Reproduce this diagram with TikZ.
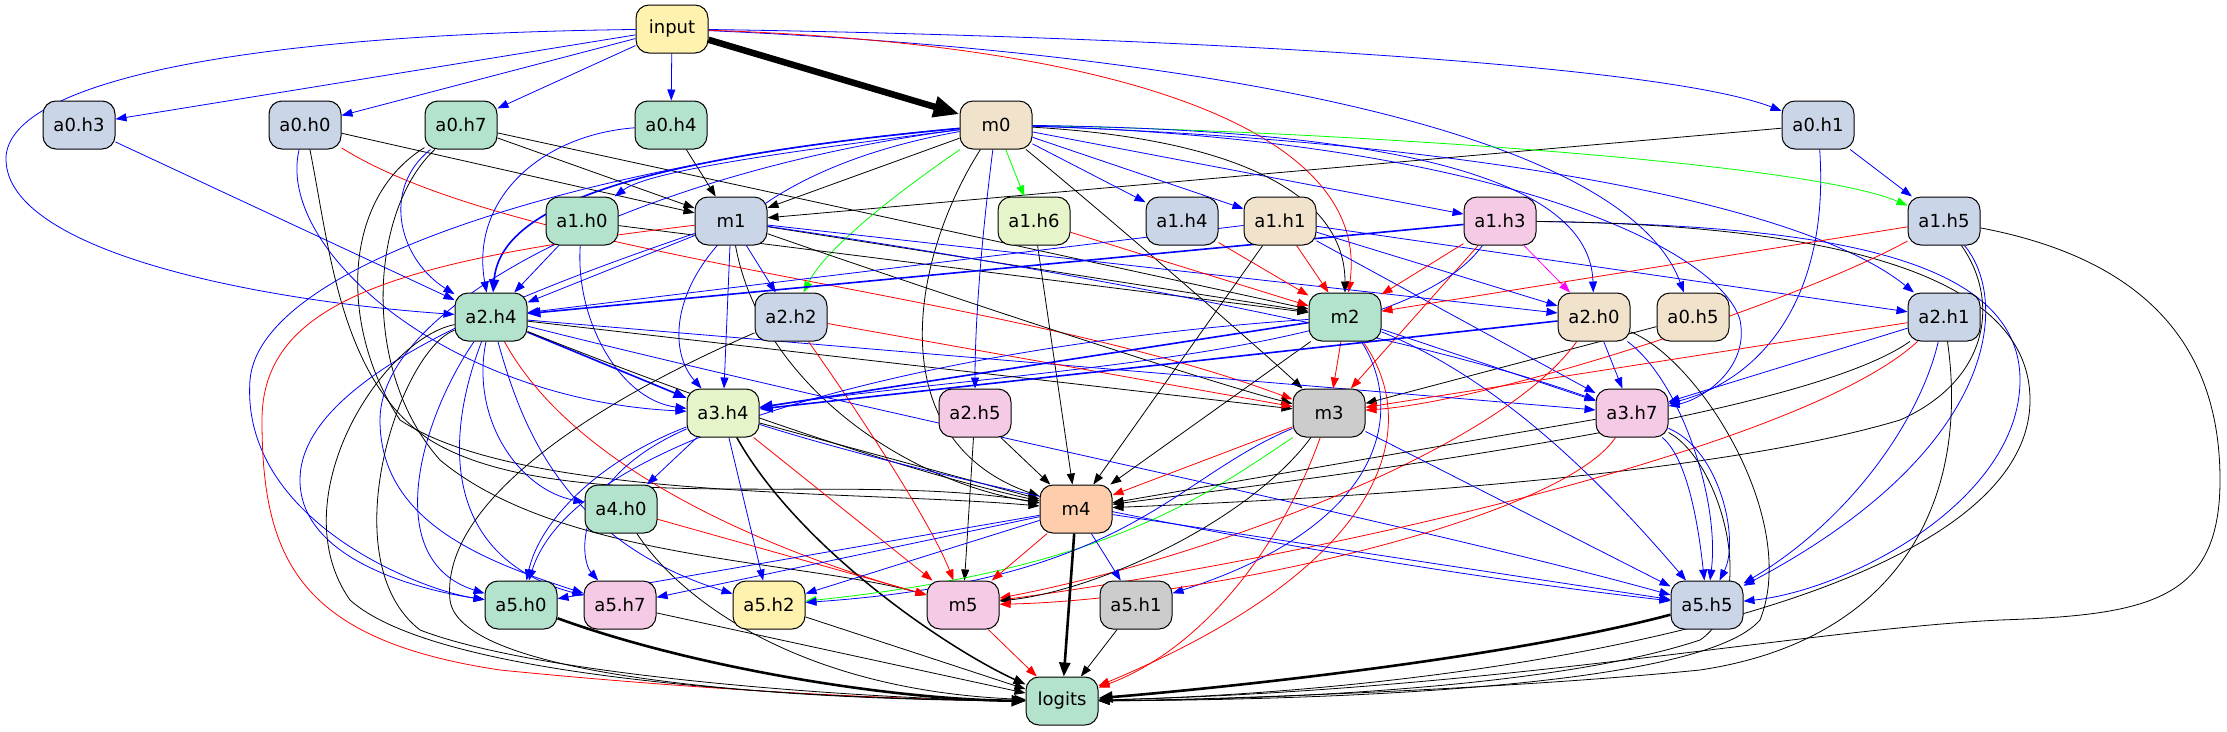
\documentclass[tikz,border=0pt]{standalone}
\usepackage{fontspec}
\setmainfont{DejaVu Sans}
\usetikzlibrary{arrows.meta}
\definecolor{pMint}{HTML}{B3E2CD}
\definecolor{pPeach}{HTML}{FDCDAC}
\definecolor{pBlue}{HTML}{CBD5E8}
\definecolor{pPink}{HTML}{F4CAE4}
\definecolor{pLime}{HTML}{E6F5C9}
\definecolor{pYel}{HTML}{FFF2AE}
\definecolor{pBeige}{HTML}{F1E2CC}
\definecolor{pGray}{HTML}{CCCCCC}
\definecolor{eBlue}{HTML}{0000FF}
\definecolor{eRed}{HTML}{FF0000}
\definecolor{eGreen}{HTML}{00FF00}
\definecolor{eMag}{HTML}{FF00FF}
\pgfdeclarelayer{bg}
\pgfsetlayers{bg,main}
\tikzset{
  hbox/.style={draw, line width=1pt, rounded corners=13pt, minimum width=72pt, minimum height=48pt, inner sep=0pt, font=\fontsize{18}{20}\selectfont},
  eany/.style={-{Triangle[length=11pt,width=8pt]}, line width=0.8pt},
  eblu/.style={eany, eBlue},
  ebluB/.style={-{Triangle[length=13pt,width=10pt]}, eBlue, line width=1.6pt},
  eblk/.style={eany, black},
  ered/.style={eany, eRed},
  egrn/.style={eany, eGreen},
  emag/.style={eany, eMag},
  eblkB/.style={-{Triangle[length=14pt,width=11pt]}, black, line width=2.6pt},
  eblkM/.style={-{Triangle[length=12pt,width=9pt]}, black, line width=1.5pt},
  einp/.style={-{Triangle[length=26pt,width=20pt]}, black, line width=6.5pt}
}
\begin{document}
\begin{tikzpicture}[x=1pt,y=1pt,yscale=-1]
\useasboundingbox (0,0) rectangle (2227,731);
% rank 0
\node[hbox, fill=pYel] (input) at (672,29) {input};
% rank 1
\node[hbox, fill=pBlue] (a0h3) at (79,125) {a0.h3};
\node[hbox, fill=pBlue] (a0h0) at (305,125) {a0.h0};
\node[hbox, fill=pMint] (a0h7) at (461,125) {a0.h7};
\node[hbox, fill=pMint] (a0h4) at (671,125) {a0.h4};
\node[hbox, fill=pBeige] (m0) at (996,125) {m0};
\node[hbox, fill=pBlue] (a0h1) at (1818,125) {a0.h1};
% rank 2
\node[hbox, fill=pMint] (a1h0) at (582,221) {a1.h0};
\node[hbox, fill=pBlue] (m1) at (731,221) {m1};
\node[hbox, fill=pLime] (a1h6) at (1034,221) {a1.h6};
\node[hbox, fill=pBlue] (a1h4) at (1182,221) {a1.h4};
\node[hbox, fill=pBeige] (a1h1) at (1280,221) {a1.h1};
\node[hbox, fill=pPink] (a1h3) at (1500,221) {a1.h3};
\node[hbox, fill=pBlue] (a1h5) at (1944,221) {a1.h5};
% rank 3
\node[hbox, fill=pMint] (a2h4) at (491,317) {a2.h4};
\node[hbox, fill=pBlue] (a2h2) at (791,317) {a2.h2};
\node[hbox, fill=pMint] (m2) at (1345,317) {m2};
\node[hbox, fill=pBeige] (a2h0) at (1594,317) {a2.h0};
\node[hbox, fill=pBeige] (a0h5) at (1693,317) {a0.h5};
\node[hbox, fill=pBlue] (a2h1) at (1944,317) {a2.h1};
% rank 4
\node[hbox, fill=pLime] (a3h4) at (723,413) {a3.h4};
\node[hbox, fill=pPink] (a2h5) at (975,413) {a2.h5};
\node[hbox, fill=pGray] (m3) at (1329,413) {m3};
\node[hbox, fill=pPink] (a3h7) at (1632,413) {a3.h7};
% rank 5
\node[hbox, fill=pMint] (a4h0) at (621,509) {a4.h0};
\node[hbox, fill=pPeach] (m4) at (1076,509) {m4};
% rank 6
\node[hbox, fill=pMint] (a5h0) at (521,605) {a5.h0};
\node[hbox, fill=pPink] (a5h7) at (620,605) {a5.h7};
\node[hbox, fill=pYel] (a5h2) at (769,605) {a5.h2};
\node[hbox, fill=pPink] (m5) at (963,605) {m5};
\node[hbox, fill=pGray] (a5h1) at (1136,605) {a5.h1};
\node[hbox, fill=pBlue] (a5h5) at (1707,605) {a5.h5};
% rank 7
\node[hbox, fill=pMint] (logits) at (1062,701) {logits};

\begin{pgfonlayer}{bg}
% from input
\draw[einp] (input) -- (m0);
\draw[eblu] (input) -- (a0h3);
\draw[eblu] (input) -- (a0h0);
\draw[eblu] (input) -- (a0h7);
\draw[eblu] (input) -- (a0h4);
\draw[eblu] (input) .. controls (1100,35) and (1650,60) .. (a0h1);
\draw[eblu] (input) .. controls (1150,50) and (1620,120) .. (a0h5);
\draw[ered] (input) .. controls (1150,45) and (1370,140) .. (m2);
\draw[eblu] (input) .. controls (200,35) and (4,90) .. (6,160) .. controls (8,250) and (250,300) .. (a2h4);
% from the a0 heads
\draw[eblu] (a0h3) -- (a2h4);
\draw[eblk] (a0h0) -- (m1);
\draw[ered] (a0h0) .. controls (520,260) and (1000,290) .. (m3);
\draw[eblu] (a0h0) .. controls (275,250) and (450,400) .. (a3h4);
\draw[eblk] (a0h0) .. controls (330,250) and (340,380) .. (430,440) .. controls (560,520) and (850,470) .. (m4);
\draw[eblk] (a0h7) -- (m1);
\draw[eblk] (a0h7) -- (m2);
\draw[eblu] (a0h7) .. controls (380,190) and (400,260) .. (a2h4);
\draw[eblk] (a0h7) .. controls (340,200) and (340,330) .. (400,420) .. controls (520,500) and (850,490) .. (m4);
\draw[eblk] (a0h7) .. controls (370,210) and (360,370) .. (440,460) .. controls (560,560) and (800,560) .. (m5);
\draw[eblk] (a0h4) -- (m1);
\draw[eblu] (a0h4) .. controls (540,135) and (470,200) .. (a2h4);
\draw[eblk] (a0h1) -- (m1);
\draw[eblu] (a0h1) -- (a1h5);
\draw[eblu] (a0h1) .. controls (1830,300) and (1760,380) .. (a3h7);
\draw[eblk] (a0h5) -- (m3);
% from m0
\draw[eblk] (m0) -- (m1);
\draw[egrn] (m0) -- (a1h6);
\draw[eblu] (m0) -- (a1h4);
\draw[eblu] (m0) -- (a1h1);
\draw[eblu] (m0) -- (a1h3);
\draw[egrn] (m0) .. controls (1300,130) and (1800,160) .. (a1h5);
\draw[egrn] (m0) .. controls (930,170) and (830,240) .. (a2h2);
\draw[eblk] (m0) .. controls (1250,140) and (1345,200) .. (m2);
\draw[eblk] (m0) .. controls (1100,210) and (1250,340) .. (m3);
\draw[eblk] (m0) .. controls (910,260) and (880,440) .. (m4);
\draw[eblu] (m0) .. controls (980,250) and (975,330) .. (a2h5);
\draw[eblu] (m0) .. controls (800,150) and (650,170) .. (a1h0);
\draw[ebluB] (m0) .. controls (620,160) and (500,210) .. (a2h4);
\draw[eblu] (m0) .. controls (690,180) and (650,330) .. (a3h4);
\draw[eblu] (m0) .. controls (600,160) and (260,260) .. (250,380) .. controls (240,520) and (420,590) .. (a5h0);
\draw[eblu] (m0) .. controls (650,170) and (380,300) .. (380,420) .. controls (380,520) and (480,560) .. (a5h7);
\draw[eblu] (m0) .. controls (1400,130) and (1590,180) .. (a2h0);
\draw[eblu] (m0) .. controls (1450,140) and (1800,200) .. (a2h1);
\draw[eblu] (m0) .. controls (1500,140) and (1720,250) .. (1740,320) .. controls (1750,370) and (1700,400) .. (a3h7);
% from the a1 heads and m1
\draw[eblu] (a1h0) -- (a2h4);
\draw[eblk] (a1h0) -- (m2);
\draw[eblu] (a1h0) .. controls (575,320) and (620,400) .. (a3h4);
\draw[eblu] (m1) -- (a2h4);
\draw[eblu] (m1) -- (a2h2);
\draw[eblk] (m1) -- (m2);
\draw[eblk] (m1) .. controls (900,280) and (1200,380) .. (m3);
\draw[eblu] (m1) -- (a3h4);
\draw[eblk] (m1) .. controls (760,380) and (900,480) .. (m4);
\draw[ered] (m1) .. controls (400,260) and (262,300) .. (262,420) .. controls (262,560) and (300,640) .. (500,670) .. controls (700,690) and (900,700) .. (logits);
\draw[eblu] (m1) -- (a2h0);
\draw[eblu] (m1) .. controls (500,300) and (300,380) .. (300,480) .. controls (300,560) and (420,590) .. (a5h0);
\draw[eblu] (m1) .. controls (1000,260) and (1400,330) .. (a3h7);
\draw[ered] (a1h6) -- (m2);
\draw[eblk] (a1h6) -- (m4);
\draw[ered] (a1h4) -- (m2);
\draw[ered] (a1h1) -- (m2);
\draw[eblu] (a1h1) -- (a2h4);
\draw[eblk] (a1h1) -- (m4);
\draw[eblu] (a1h1) -- (a2h0);
\draw[eblu] (a1h1) -- (a2h1);
\draw[eblu] (a1h1) -- (a3h7);
\draw[ered] (a1h3) -- (m2);
\draw[ebluB] (a1h3) -- (a2h4);
\draw[emag] (a1h3) -- (a2h0);
\draw[ered] (a1h3) -- (m3);
\draw[eblu] (a1h3) .. controls (1400,360) and (1000,370) .. (a3h4);
\draw[eblu] (a1h3) .. controls (1800,225) and (2020,250) .. (2020,380) .. controls (2020,500) and (1850,590) .. (a5h5);
\draw[eblk] (a1h3) .. controls (1850,225) and (2030,280) .. (2030,400) .. controls (2030,600) and (1500,690) .. (logits);
\draw[ered] (a1h5) -- (m2);
\draw[ered] (a1h5) .. controls (1800,300) and (1500,400) .. (m3);
\draw[eblk] (a1h5) .. controls (2000,300) and (1990,380) .. (1900,420) .. controls (1700,480) and (1300,500) .. (m4);
\draw[eblu] (a1h5) .. controls (2010,300) and (2000,450) .. (a5h5);
\draw[eblk] (a1h5) .. controls (2150,260) and (2220,350) .. (2220,480) .. controls (2220,600) and (2150,615) .. (2000,620) .. controls (1800,630) and (1500,690) .. (logits);
% from the a2 heads and m2
\draw[ebluB] (a2h4) -- (a3h4);
\draw[eblu] (a2h4) .. controls (470,420) and (520,490) .. (a4h0);
\draw[eblu] (a2h4) .. controls (420,420) and (380,560) .. (a5h0);
\draw[eblu] (a2h4) .. controls (440,450) and (450,560) .. (a5h7);
\draw[eblu] (a2h4) .. controls (520,420) and (560,540) .. (a5h2);
\draw[eblk] (a2h4) -- (m3);
\draw[eblu] (a2h4) -- (a3h7);
\draw[eblu] (a2h4) .. controls (900,420) and (1400,520) .. (a5h5);
\draw[eblk] (a2h4) .. controls (700,400) and (900,470) .. (m4);
\draw[ered] (a2h4) .. controls (580,480) and (800,560) .. (m5);
\draw[eblk] (a2h4) .. controls (400,350) and (330,560) .. (420,630) .. controls (550,680) and (900,700) .. (logits);
\draw[eblk] (a2h4) .. controls (380,340) and (280,500) .. (350,600) .. controls (450,690) and (900,700) .. (logits);
\draw[ered] (a2h2) -- (m3);
\draw[ered] (a2h2) .. controls (850,400) and (930,520) .. (m5);
\draw[eblk] (a2h2) .. controls (600,400) and (440,500) .. (450,600) .. controls (460,680) and (800,700) .. (logits);
\draw[ered] (m2) -- (m3);
\draw[eblk] (m2) -- (m4);
\draw[ebluB] (m2) -- (a3h4);
\draw[eblu] (m2) -- (a3h7);
\draw[eblu] (m2) .. controls (1000,340) and (580,420) .. (a5h0);
\draw[eblu] (m2) .. controls (1400,400) and (1400,520) .. (a5h1);
\draw[ered] (m2) .. controls (1420,420) and (1400,560) .. (logits);
\draw[eblu] (m2) .. controls (1500,380) and (1600,480) .. (a5h5);
\draw[ebluB] (a2h0) -- (a3h4);
\draw[eblu] (a2h0) -- (a3h7);
\draw[ered] (a2h0) .. controls (1500,450) and (1200,560) .. (m5);
\draw[eblu] (a2h0) .. controls (1680,380) and (1720,500) .. (a5h5);
\draw[eblk] (a2h0) .. controls (1700,360) and (1800,520) .. (1760,620) .. controls (1700,690) and (1300,700) .. (logits);
\draw[eblu] (a2h1) -- (a3h7);
\draw[ered] (a2h1) -- (m3);
\draw[eblk] (a2h1) .. controls (1800,420) and (1300,480) .. (m4);
\draw[ered] (a2h1) .. controls (1800,450) and (1300,560) .. (m5);
\draw[eblu] (a2h1) .. controls (1920,420) and (1850,520) .. (a5h5);
\draw[eblk] (a2h1) .. controls (1970,500) and (1900,640) .. (1700,670) .. controls (1500,690) and (1200,700) .. (logits);
% from the a3 heads and m3
\draw[eblu] (a3h4) -- (a4h0);
\draw[eblk] (a3h4) -- (m4);
\draw[eblu] (a3h4) .. controls (570,480) and (580,560) .. (a5h7);
\draw[eblu] (a3h4) -- (a5h2);
\draw[ered] (a3h4) -- (m5);
\draw[eblu] (a3h4) .. controls (1000,500) and (1400,570) .. (a5h5);
\draw[eblkM] (a3h4) .. controls (800,550) and (950,650) .. (logits);
\draw[eblu] (a3h4) .. controls (600,460) and (540,520) .. (a5h0);
\draw[eblk] (a2h5) -- (m4);
\draw[eblk] (a2h5) -- (m5);
\draw[ered] (m3) -- (m4);
\draw[eblk] (m3) .. controls (1250,520) and (1100,590) .. (m5);
\draw[egrn] (m3) .. controls (1200,500) and (1100,570) .. (a5h2);
\draw[eblu] (m3) .. controls (1170,480) and (1130,580) .. (a5h2);
\draw[eblu] (m3) -- (a5h5);
\draw[ered] (m3) .. controls (1280,550) and (1200,650) .. (logits);
\draw[eblk] (a3h7) -- (m4);
\draw[ered] (a3h7) .. controls (1560,520) and (1200,600) .. (m5);
\draw[eblu] (a3h7) .. controls (1690,460) and (1700,540) .. (a5h5);
\draw[eblu] (a3h7) .. controls (1720,450) and (1740,540) .. (a5h5);
\draw[eblk] (a3h7) .. controls (1720,460) and (1760,600) .. (1700,640) .. controls (1550,690) and (1250,700) .. (logits);
% from a4 and m4
\draw[ered] (a4h0) -- (m5);
\draw[eblk] (a4h0) .. controls (680,600) and (800,690) .. (logits);
\draw[ered] (m4) -- (m5);
\draw[eblu] (m4) -- (a5h1);
\draw[eblkB] (m4) -- (logits);
\draw[eblu] (m4) -- (a5h0);
\draw[eblu] (m4) -- (a5h7);
\draw[eblu] (m4) -- (a5h2);
\draw[eblu] (m4) -- (a5h5);
% into logits
\draw[eblkB] (a5h0) .. controls (700,670) and (900,700) .. (logits);
\draw[eblk] (a5h7) -- (logits);
\draw[eblk] (a5h2) -- (logits);
\draw[ered] (m5) -- (logits);
\draw[eblk] (a5h1) -- (logits);
\draw[eblkB] (a5h5) .. controls (1500,660) and (1200,690) .. (logits);
\end{pgfonlayer}
\end{tikzpicture}
\end{document}
